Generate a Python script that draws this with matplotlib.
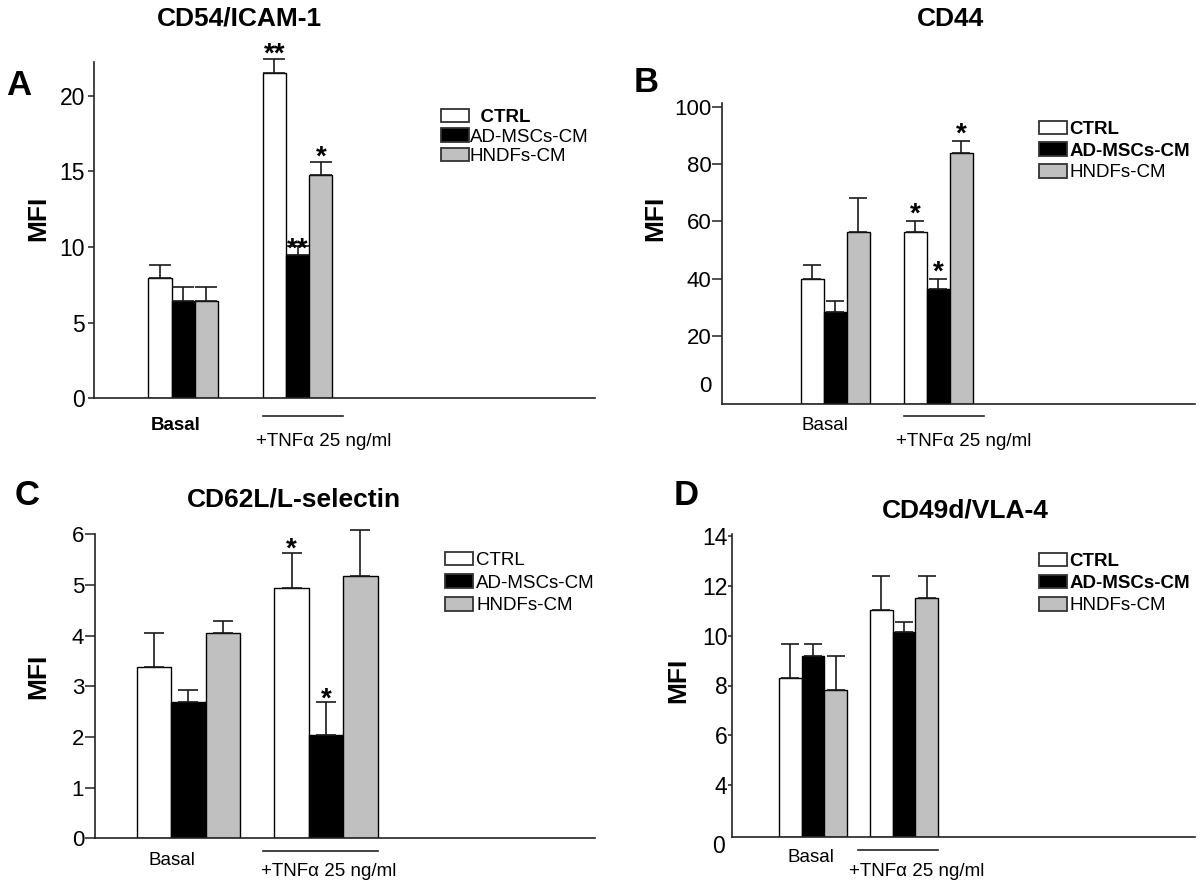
import numpy as np
import matplotlib
matplotlib.use("Agg")
import matplotlib.pyplot as plt
from matplotlib.transforms import blended_transform_factory

plt.rcParams['font.family'] = ['Liberation Sans', 'DejaVu Sans']

# ---------------- data ----------------
groups = ["Basal", "+TNFα 25 ng/ml"]
series = ["CTRL", "AD-MSCs-CM", "HNDFs-CM"]
colors = ["white", "black", "#c0c0c0"]

a_title = "CD54/ICAM-1"
a_ctrl = [7.93, 21.52]
a_ctrl_err = [0.88, 0.88]
a_ad = [6.43, 9.47]
a_ad_err = [0.90, 0.62]
a_hndf = [6.43, 14.76]
a_hndf_err = [0.90, 0.84]
a_yticks = [0, 5, 10, 15, 20]
a_stars = [(1, 0, "**"), (1, 1, "**"), (1, 2, "*")]

b_title = "CD44"
b_ctrl = [40.0, 56.2]
b_ctrl_err = [4.8, 3.95]
b_ad = [28.2, 36.4]
b_ad_err = [4.0, 3.5]
b_hndf = [56.2, 84.0]
b_hndf_err = [11.85, 4.1]
b_yticks = [20, 40, 60, 80, 100]
b_stars = [(1, 0, "*"), (1, 1, "*"), (1, 2, "*")]

c_title = "CD62L/L-selectin"
c_ctrl = [3.39, 4.95]
c_ctrl_err = [0.66, 0.68]
c_ad = [2.70, 2.03]
c_ad_err = [0.23, 0.67]
c_hndf = [4.06, 5.18]
c_hndf_err = [0.23, 0.91]
c_yticks = [0, 1, 2, 3, 4, 5, 6]
c_stars = [(1, 0, "*"), (1, 1, "*")]

d_title = "CD49d/VLA-4"
d_ctrl = [8.29, 11.04]
d_ctrl_err = [1.38, 1.38]
d_ad = [9.20, 10.14]
d_ad_err = [0.47, 0.43]
d_hndf = [7.82, 11.50]
d_hndf_err = [1.38, 0.91]
d_yticks = [4, 6, 8, 10, 12, 14]
d_stars = []

# ---------------- layout (pixels) ----------------
W, H = 1200, 881
fig = plt.figure(figsize=(W / 100, H / 100), dpi=100)
fig.patch.set_facecolor("white")

STAR_FS = 20
STAR_C = 0.58 * STAR_FS / 0.72  # px from baseline to star centre

def fx(px):
    return px / W

def fy(py):
    return 1 - py / H

def panel(letter, title, vals, errs, yticks, stars, L):
    left, top, right, bottom = L["rect"]
    ax = fig.add_axes([fx(left), fy(bottom), fx(right - left), (bottom - top) / H])
    c0, sp, bwpx = L["c0"], L["sp"], L["bw"]
    bw = bwpx / sp
    ax.set_xlim((left - c0) / sp, (right - c0) / sp)
    y0, y1 = L["ylim"]
    ax.set_ylim(y0, y1)
    base = L["base"]
    x0 = np.arange(len(groups), dtype=float)
    tops = []
    for i, (v, e, col) in enumerate(zip(vals, errs, colors)):
        v = np.asarray(v, dtype=float)
        e = np.asarray(e, dtype=float)
        xs = x0 + (i - 1) * bw
        cont = ax.bar(xs, v - base, bottom=base, width=bw, color=col,
                      edgecolor="black", linewidth=1.0, label=series[i],
                      yerr=[np.zeros_like(e), e], capsize=L["cap"],
                      error_kw=dict(elinewidth=1.2, capthick=1.2, ecolor="#1a1a1a"),
                      zorder=2)
        for art in cont.errorbar.lines:
            if isinstance(art, (tuple, list)):
                for a in art:
                    a.set_clip_on(False)
            elif art is not None:
                art.set_clip_on(False)
        tops.append((xs, v + e))
    # stars
    for (g, s, txt), off in zip(stars, L["star_off"]):
        xs, tp = tops[s]
        ax.annotate(txt, xy=(xs[g], tp[g]), xytext=(0, (off - STAR_C) * 0.72),
                    textcoords="offset points", ha="center", va="baseline",
                    fontsize=STAR_FS, fontweight="bold", annotation_clip=False)
    # spines
    for sname in ["top", "right"]:
        ax.spines[sname].set_visible(False)
    for sname in ["left", "bottom"]:
        ax.spines[sname].set_linewidth(1.2)
        ax.spines[sname].set_color("#222222")
    ax.set_xticks([])
    ax.set_yticks(yticks)
    ax.set_yticklabels([str(t) for t in yticks])
    ax.tick_params(axis="y", length=L["tlen"], width=1.1, pad=L["tpad"],
                   labelsize=L["tfs"], color="#222222")
    ax.set_facecolor("none")
    if L.get("zero") is not None:
        zx, zval = L["zero"]
        ax.text(fx(zx), zval, "0", transform=blended_transform_factory(fig.transFigure, ax.transData),
                ha="right", va="center", fontsize=L["tfs"], clip_on=False)
    # group labels and TNF underline
    tr = blended_transform_factory(ax.transData, fig.transFigure)
    ul0, ul1, uly = L["uline"]
    ax.plot([(ul0 - c0) / sp, (ul1 - c0) / sp], [fy(uly), fy(uly)], transform=tr,
            color="#222222", lw=1.2, clip_on=False)
    (bxp, byp, bwt), (txp, typ) = L["glab"]
    ax.text((bxp - c0) / sp, fy(byp), groups[0], transform=tr, ha="center",
            va="baseline", fontsize=13.5, fontweight=bwt)
    ax.text((txp - c0) / sp, fy(typ), groups[1], transform=tr, ha="center",
            va="baseline", fontsize=13.5)
    # titles, letters, ylabel
    tx, ty = L["title"]
    fig.text(fx(tx), fy(ty), title, ha="center", va="baseline", fontsize=19, fontweight="bold")
    lx, ly = L["letter"]
    fig.text(fx(lx), fy(ly), letter, ha="center", va="baseline", fontsize=25, fontweight="bold")
    mx, my = L["mfi"]
    fig.text(fx(mx), fy(my), "MFI", ha="center", va="center", rotation=90,
             fontsize=19, fontweight="bold")
    # legend
    handles, labels = ax.get_legend_handles_labels()
    labels = [L["leg_prefix"][k] + lab for k, lab in enumerate(labels)]
    lgx, lgy = L["leg_pos"]
    leg = ax.legend(handles, labels, loc="upper left",
                    bbox_to_anchor=(fx(lgx), fy(lgy)), bbox_transform=fig.transFigure,
                    frameon=False, borderpad=0, borderaxespad=0, fontsize=13.5,
                    handlelength=L["hl"], handleheight=L["hh"],
                    handletextpad=L["htp"], labelspacing=L["ls"])
    for t, w in zip(leg.get_texts(), L["leg_w"]):
        t.set_fontweight(w)
    for p in leg.get_patches():
        p.set_edgecolor("#333333")
        p.set_linewidth(1.3)
    return ax

LA = dict(rect=(93.8, 61.7, 595, 398.3), c0=183.1, sp=114.5, bw=23.2,
          ylim=(0, 22.25), base=0, cap=8.0, tlen=4.3, tpad=2.0, tfs=16.5,
          zero=None, star_off=[14, 5.5, 14],
          uline=(263.3, 342.5, 416), glab=((176, 430, "bold"), (323.4, 446)),
          title=(239, 26), letter=(19, 95), mfi=(38, 218),
          leg_pos=(441, 109.0), leg_prefix=["  ", "", ""], leg_w=["bold", "normal", "normal"],
          hl=1.49, hh=0.70, htp=0.05, ls=0.12)

LB = dict(rect=(721.7, 103.3, 1195, 404.3), c0=835.4, sp=102.9, bw=23.0,
          ylim=(-3.9, 101.25), base=-3.9, cap=6.6, tlen=7.0, tpad=0.5, tfs=16,
          zero=(711, 2.16), star_off=[15.5, 15.8, 15],
          uline=(904.2, 983.9, 416), glab=((825, 430, "normal"), (963.6, 446)),
          title=(951, 26), letter=(646.5, 91.7), mfi=(655, 218),
          leg_pos=(1039.3, 120.7), leg_prefix=["", "", ""], leg_w=["bold", "bold", "normal"],
          hl=1.47, hh=0.72, htp=0.13, ls=0.24)

LC = dict(rect=(94.5, 534.3, 595, 838.3), c0=188.4, sp=137.6, bw=34.4,
          ylim=(0, 6.0), base=0, cap=7.2, tlen=7.0, tpad=0.5, tfs=16,
          zero=None, star_off=[13, 11],
          uline=(263.3, 378.1, 851), glab=((172.2, 865, "normal"), (329.1, 876)),
          title=(293.5, 507), letter=(27.4, 505), mfi=(38.4, 676),
          leg_pos=(444.7, 551.7), leg_prefix=["", "", ""], leg_w=["normal", "normal", "normal"],
          hl=1.49, hh=0.74, htp=0.18, ls=0.28)

LD = dict(rect=(732.4, 534.3, 1195, 836.7), c0=813.0, sp=91.0, bw=22.7,
          ylim=(1.92, 14.08), base=1.92, cap=6.7, tlen=3.0, tpad=0.5, tfs=16.5,
          zero=(724.4, 1.51), star_off=[],
          uline=(858.3, 937.9, 850), glab=((811.3, 862, "normal"), (916.9, 876)),
          title=(965.3, 518), letter=(686, 505), mfi=(678, 680),
          leg_pos=(1039.3, 553.0), leg_prefix=["", "", ""], leg_w=["bold", "bold", "normal"],
          hl=1.47, hh=0.72, htp=0.13, ls=0.26)

panel("A", a_title, [a_ctrl, a_ad, a_hndf], [a_ctrl_err, a_ad_err, a_hndf_err], a_yticks, a_stars, LA)
panel("B", b_title, [b_ctrl, b_ad, b_hndf], [b_ctrl_err, b_ad_err, b_hndf_err], b_yticks, b_stars, LB)
panel("C", c_title, [c_ctrl, c_ad, c_hndf], [c_ctrl_err, c_ad_err, c_hndf_err], c_yticks, c_stars, LC)
panel("D", d_title, [d_ctrl, d_ad, d_hndf], [d_ctrl_err, d_ad_err, d_hndf_err], d_yticks, d_stars, LD)

fig.savefig("out.png", dpi=100, facecolor="white")
